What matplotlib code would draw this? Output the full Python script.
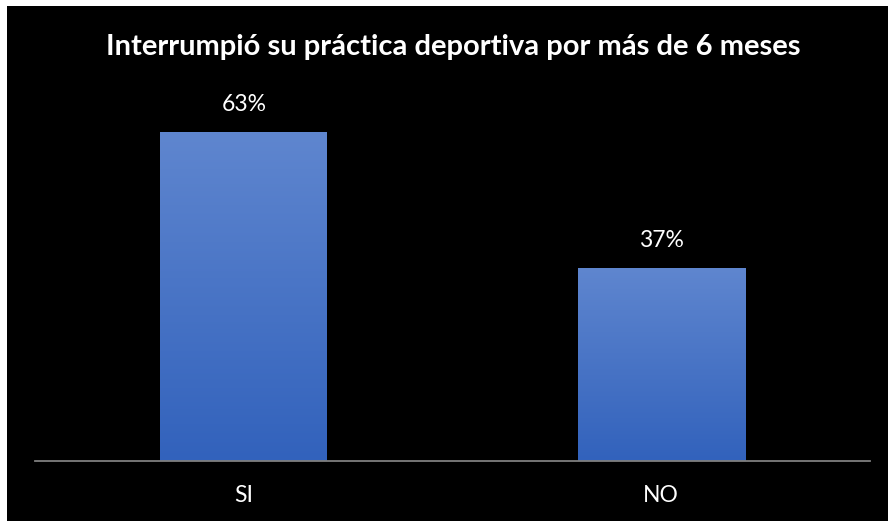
import matplotlib
matplotlib.use("Agg")
import matplotlib.pyplot as plt
import numpy as np
from matplotlib.patches import Rectangle
from matplotlib.colors import LinearSegmentedColormap

categories = ["SI", "NO"]
values = [63, 37]
value_labels = ["63%", "37%"]
title = "Interrumpió su práctica deportiva por más de 6 meses"

W, H = 888, 522
fig = plt.figure(figsize=(W / 100, H / 100), dpi=100)
fig.patch.set_facecolor("black")
# white margins (left and top)
fig.patches.append(Rectangle((0, 0), 7 / W, 1, transform=fig.transFigure,
                             facecolor="white", edgecolor="none", zorder=-10))
fig.patches.append(Rectangle((0, (H - 6) / H), 1, 6 / H, transform=fig.transFigure,
                             facecolor="white", edgecolor="none", zorder=-10))
fig.patches.append(Rectangle((0, 0), 1, 1 / H, transform=fig.transFigure,
                             facecolor="white", edgecolor="none", zorder=-10))

left, right = 35 / W, 870 / W
bottom = (H - 461) / H
ymax = 70
px_per_unit = (461 - 132) / 63
top_px = 461 - ymax * px_per_unit
top = (H - top_px) / H
ax = fig.add_axes([left, bottom, right - left, top - bottom])
ax.set_zorder(5)
ax.set_facecolor("none")
ax.set_xlim(-0.5, 1.5)
ax.set_ylim(0, ymax)

cmap = LinearSegmentedColormap.from_list("g", ["#3262bc", "#5f86cf"])
grad = np.linspace(0, 1, 256).reshape(-1, 1)
bw = 0.40
x = np.arange(len(categories))
bars = ax.bar(x, values, width=bw, color="none", edgecolor="none")
for b in bars:
    bx, by = b.get_x(), b.get_y()
    w, h = b.get_width(), b.get_height()
    im = ax.imshow(grad, cmap=cmap, aspect="auto", origin="lower",
                   extent=[bx, bx + w, by, by + h], zorder=2)
    im.set_clip_path(b)
ax.set_xlim(-0.5, 1.5)
ax.set_ylim(0, ymax)

for xi, v, lab in zip(x, values, value_labels):
    ax.annotate(lab, (xi, v), xytext=(0, 12), textcoords="offset points",
                ha="center", va="bottom", color="white", fontsize=16.5,
                family="Lato")

for s in ["top", "right", "left"]:
    ax.spines[s].set_visible(False)
ax.spines["bottom"].set_color("#7f7f7f")
ax.spines["bottom"].set_linewidth(1.3)
ax.set_yticks([])
ax.set_xticks(x)
ax.set_xticklabels(categories, color="white", fontsize=16.5, family="Lato")
ax.tick_params(axis="x", length=0, pad=17)

fig.text(453 / W, (H - 55) / H, title, ha="center", va="baseline",
         color="white", fontsize=21, fontweight="bold", family="Lato",
         zorder=10)

fig.savefig("out.png", dpi=100, facecolor=fig.get_facecolor())
